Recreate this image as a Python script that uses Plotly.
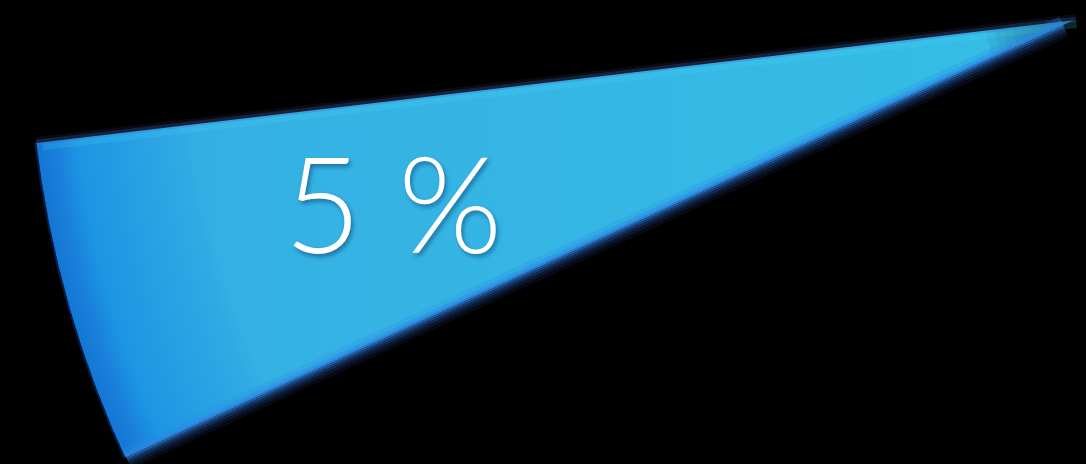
import math
import plotly.graph_objects as go

# ---- data ----
labels = ["Share", "Rest"]
values = [5, 95]
label_text = "5 %"

# ---- geometry / style (pixel space) ----
W, H = 1086, 464
CX, CY = 1076, 19          # pie centre (apex of the visible slice)
R = 1047                   # pie radius
START_DEG = 186.75         # direction of the slice's upper edge (math angle, y-up)

share = values[0] / sum(values)
SPAN = 360.0 * share
a0, a1 = START_DEG, START_DEG + SPAN


def pt(r, deg):
    a = math.radians(deg)
    return CX + r * math.cos(a), CY - r * math.sin(a)


def wedge(b0, b1, r0=0.0, r1=R, n=90):
    xs, ys = [], []
    for i in range(n + 1):
        x, y = pt(r1, b0 + (b1 - b0) * i / n)
        xs.append(x); ys.append(y)
    if r0 <= 0:
        x, y = pt(0, b0)
        xs.append(x); ys.append(y)
    else:
        for i in range(n, -1, -1):
            x, y = pt(r0, b0 + (b1 - b0) * i / n)
            xs.append(x); ys.append(y)
    xs.append(xs[0]); ys.append(ys[0])
    return xs, ys


def strip(deg, d0, d1, outward_sign, start=0.0, length=R):
    """Constant-width band parallel to a radial edge; d>0 is outside the slice."""
    sx, sy = pt(start, deg)
    ex, ey = pt(length, deg)
    L = math.hypot(ex - CX, ey - CY)
    ux, uy = (ex - CX) / L, (ey - CY) / L
    nx, ny = (-uy, ux) if outward_sign < 0 else (uy, -ux)
    pts = [(sx + nx * d0, sy + ny * d0), (ex + nx * d0, ey + ny * d0),
           (ex + nx * d1, ey + ny * d1), (sx + nx * d1, sy + ny * d1)]
    xs = [p[0] for p in pts] + [pts[0][0]]
    ys = [p[1] for p in pts] + [pts[0][1]]
    return xs, ys


fig = go.Figure()


def add_poly(xy, color=None, gradient=None):
    xs, ys = xy
    kw = dict(fillcolor=color) if gradient is None else dict(fillgradient=gradient)
    fig.add_trace(go.Scatter(x=xs, y=ys, mode="lines", fill="toself",
                             line=dict(width=0), hoverinfo="skip",
                             showlegend=False, **kw))


# soft halo just outside the arc
add_poly(wedge(a0, a1, R - 2, R + 2), "rgba(20,60,130,0.45)")

# main slice body
add_poly(wedge(a0, a1), gradient=dict(
    type="horizontal",
    colorscale=[[0.0, "#33abe3"], [0.3, "#35b3e4"], [1.0, "#34bee5"]]))

# radial darkening toward the outer arc (smooth stack of thin rings)
steps = 30
for k in range(steps):
    f = (k + 1) / steps
    add_poly(wedge(a0, a1, R - 160 * (1 - f) - 1, R), "rgba(40,110,220,0.011)")
for k in range(16):
    f = (k + 1) / 16
    add_poly(wedge(a0, a1, R - 40 * (1 - f) - 1, R), "rgba(36,100,215,0.025)")

# darkening toward the apex
for k in range(10):
    f = (k + 1) / 10
    add_poly(wedge(a0, a1, 0, 10 + 90 * (1 - f)), "rgba(10,25,55,0.06)")

# upper edge: light cyan inner band, thin blue line, dark navy rim outside
UP = -1
add_poly(strip(a0, -9, -3, UP, 0, R - 6), "rgba(75,215,242,0.18)")
add_poly(strip(a0, -3, -1, UP, 0, R - 3), "rgba(45,145,232,0.4)")
add_poly(strip(a0, -1, 2.5, UP, 0, R), "#17213a")
add_poly(strip(a0, 2.5, 5, UP, 0, R), "rgba(14,20,36,0.55)")

# lower edge: deep blue band then soft dark shadow
DN = 1
lower_bands = [(-9, -5, "rgba(45,140,232,0.25)"),
               (-5, -2, "rgba(44,138,230,0.6)"),
               (-2, 0.5, "#2a82de"),
               (0.5, 2.5, "#22609f"),
               (2.5, 4.5, "#1a4178"),
               (4.5, 7, "#122a50"),
               (7, 10, "#0b1730"),
               (10, 13, "#050a14")]
for d0, d1, c in lower_bands:
    add_poly(strip(a1, d0, d1, DN, 14, R - 1), c)

# label
lx, ly = pt(706, START_DEG + SPAN * 0.455)
fig.add_annotation(x=lx, y=ly, text=label_text, showarrow=False,
                   font=dict(family="Lato", size=134, color="white", weight=300,
                             shadow="2px 3px 4px rgba(0,40,80,0.45)"),
                   xanchor="center", yanchor="middle")

fig.update_layout(
    width=W, height=H, margin=dict(l=0, r=0, t=0, b=0),
    paper_bgcolor="black", plot_bgcolor="black",
    xaxis=dict(range=[0, W], visible=False, fixedrange=True),
    yaxis=dict(range=[H, 0], visible=False, fixedrange=True),
    showlegend=False,
)

fig.write_html("out.html")
